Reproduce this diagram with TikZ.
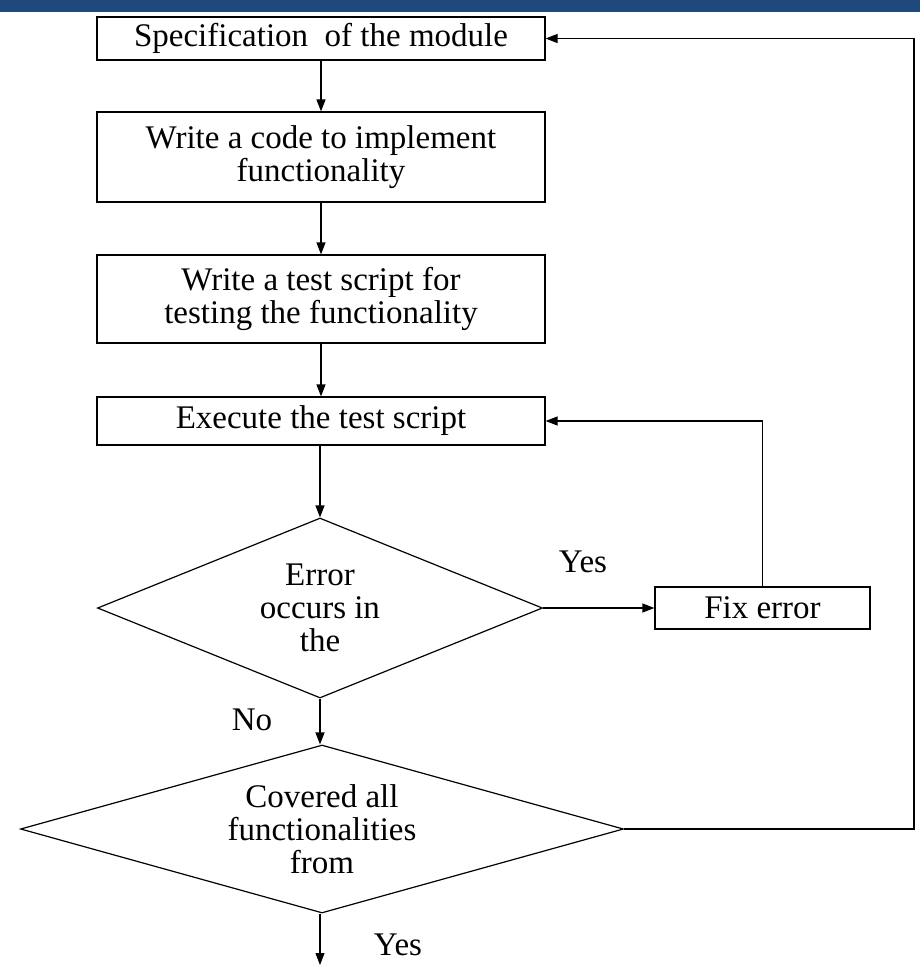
\documentclass[tikz,border=0pt]{standalone}
\usepackage{fontspec}
\setmainfont{Liberation Serif}
\usetikzlibrary{shapes.geometric,arrows.meta,positioning}
\definecolor{barblue}{RGB}{31,73,125}

\begin{document}
\begin{tikzpicture}[x=0.5pt,y=-0.5pt,
	font=\fontsize{16.5}{16.5}\selectfont,
	line width=0.6pt,
	>={Triangle[length=6pt,width=4.5pt]},
	stepbox/.style={draw,rectangle,align=center,inner sep=0pt,minimum width=224pt},
	decision/.style={draw,diamond,align=center,inner sep=0pt},
	label text/.style={inner sep=0pt}]
	\useasboundingbox (0,0) rectangle (920,971);
	\fill[barblue] (0,0) rectangle (920,12);
	% process boxes
	\node[stepbox,minimum height=21.5pt] (spec) at (321,38.5) {Specification \ of the module};
	\node[stepbox,minimum height=45pt] (code) at (321,157) {Write a code to implement\\functionality};
	\node[stepbox,minimum height=44pt] (script) at (321,299) {Write a test script for\\testing the functionality};
	\node[stepbox,minimum height=24pt] (exec) at (321,421) {Execute the test script};
	\node[decision,aspect=2.47,minimum width=222.5pt,minimum height=90pt] (err) at (320,608) {Error\\occurs in\\the};
	\node[stepbox,minimum width=107.5pt,minimum height=21pt] (fix) at (762.5,608) {Fix error};
	\node[decision,aspect=3.6,minimum width=301.5pt,minimum height=84pt] (cover) at (322,829) {Covered all\\functionalities\\from};
	\coordinate (rt) at (914,0);
	\coordinate (out) at (320,965);
	% connectors
	\draw[->] (spec) -- (code);
	\draw[->] (code) -- (script);
	\draw[->] (script) -- (exec);
	\draw[->] (exec.south -| err.north) -- (err.north);
	\draw[->] (err.east) -- (fix.west);
	\draw[->] (fix.north) |- (exec.east);
	\draw[->] (err.south) -- (err.south |- cover.north);
	\draw[->] (cover.east) -- (cover.east -| rt) |- (spec.east);
	\draw[->] (cover.south -| out) -- (out);
	% labels
	\node[label text] (yes1) at (583,562) {Yes};
	\node[label text] (no) at (252,720) {No};
	\node[label text] (yes2) at (398,945) {Yes};
\end{tikzpicture}
\end{document}
